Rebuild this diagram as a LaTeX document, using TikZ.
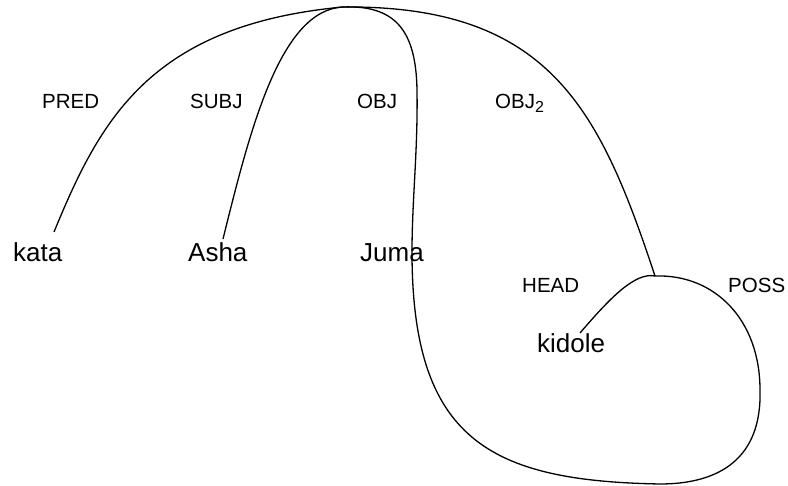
\documentclass[tikz,border=0pt]{standalone}
\usepackage{fontspec}
\setmainfont{Liberation Sans}
\begin{document}
\begin{tikzpicture}[x=1pt,y=-1pt,
  word/.style={anchor=base west,inner sep=0pt,font=\fontsize{26}{30}\selectfont},
  rel/.style={anchor=base west,inner sep=0pt,font=\fontsize{20.5}{24}\selectfont},
  arc/.style={line width=1.3pt,line join=round}]
\useasboundingbox (0,0) rectangle (788,486);

% words
\node[word] (kata)   at (13,262)  {kata};
\node[word] (asha)   at (188,262) {Asha};
\node[word] (juma)   at (360,262) {Juma};
\node[word] (kidole) at (537,353) {kidole};

% relation labels
\node[rel] (pred) at (42,109)  {PRED};
\node[rel] (subj) at (190,109) {SUBJ};
\node[rel] (obj)  at (357,109) {OBJ};
\node[rel] (objb) at (495,109) {OBJ\raisebox{-3.5pt}{\fontsize{16}{18}\selectfont 2}};
\node[rel] (head) at (522,293) {HEAD};
\node[rel] (poss) at (728,293) {POSS};

% attachment points
\coordinate (top)  at (343,7);
\coordinate (np)   at (655,276);
\coordinate (kataE)   at (54,232);
\coordinate (ashaE)   at (223,239);
\coordinate (jumaE)   at (412,252);
\coordinate (kidoleE) at (580,333);

% arcs
\draw[arc] (kataE) .. controls (100,120) and (150,25) .. (top);
\draw[arc] (ashaE) .. controls (250,130) and (280,10) .. (top);
\draw[arc] (top) .. controls (395,5) and (416,30) .. (417,90)
                 .. controls (418,150) and (412,200) .. (jumaE);
\draw[arc] (top) .. controls (550,5) and (600,110) .. (np);
\draw[arc] (np) .. controls (635,272) and (610,298) .. (kidoleE);
\draw[arc] (np) .. controls (715,274) and (760,320) .. (760,390)
                .. controls (762,458) and (720,484) .. (660,484)
                .. controls (490,481) and (412,440) .. (jumaE);
\end{tikzpicture}
\end{document}
